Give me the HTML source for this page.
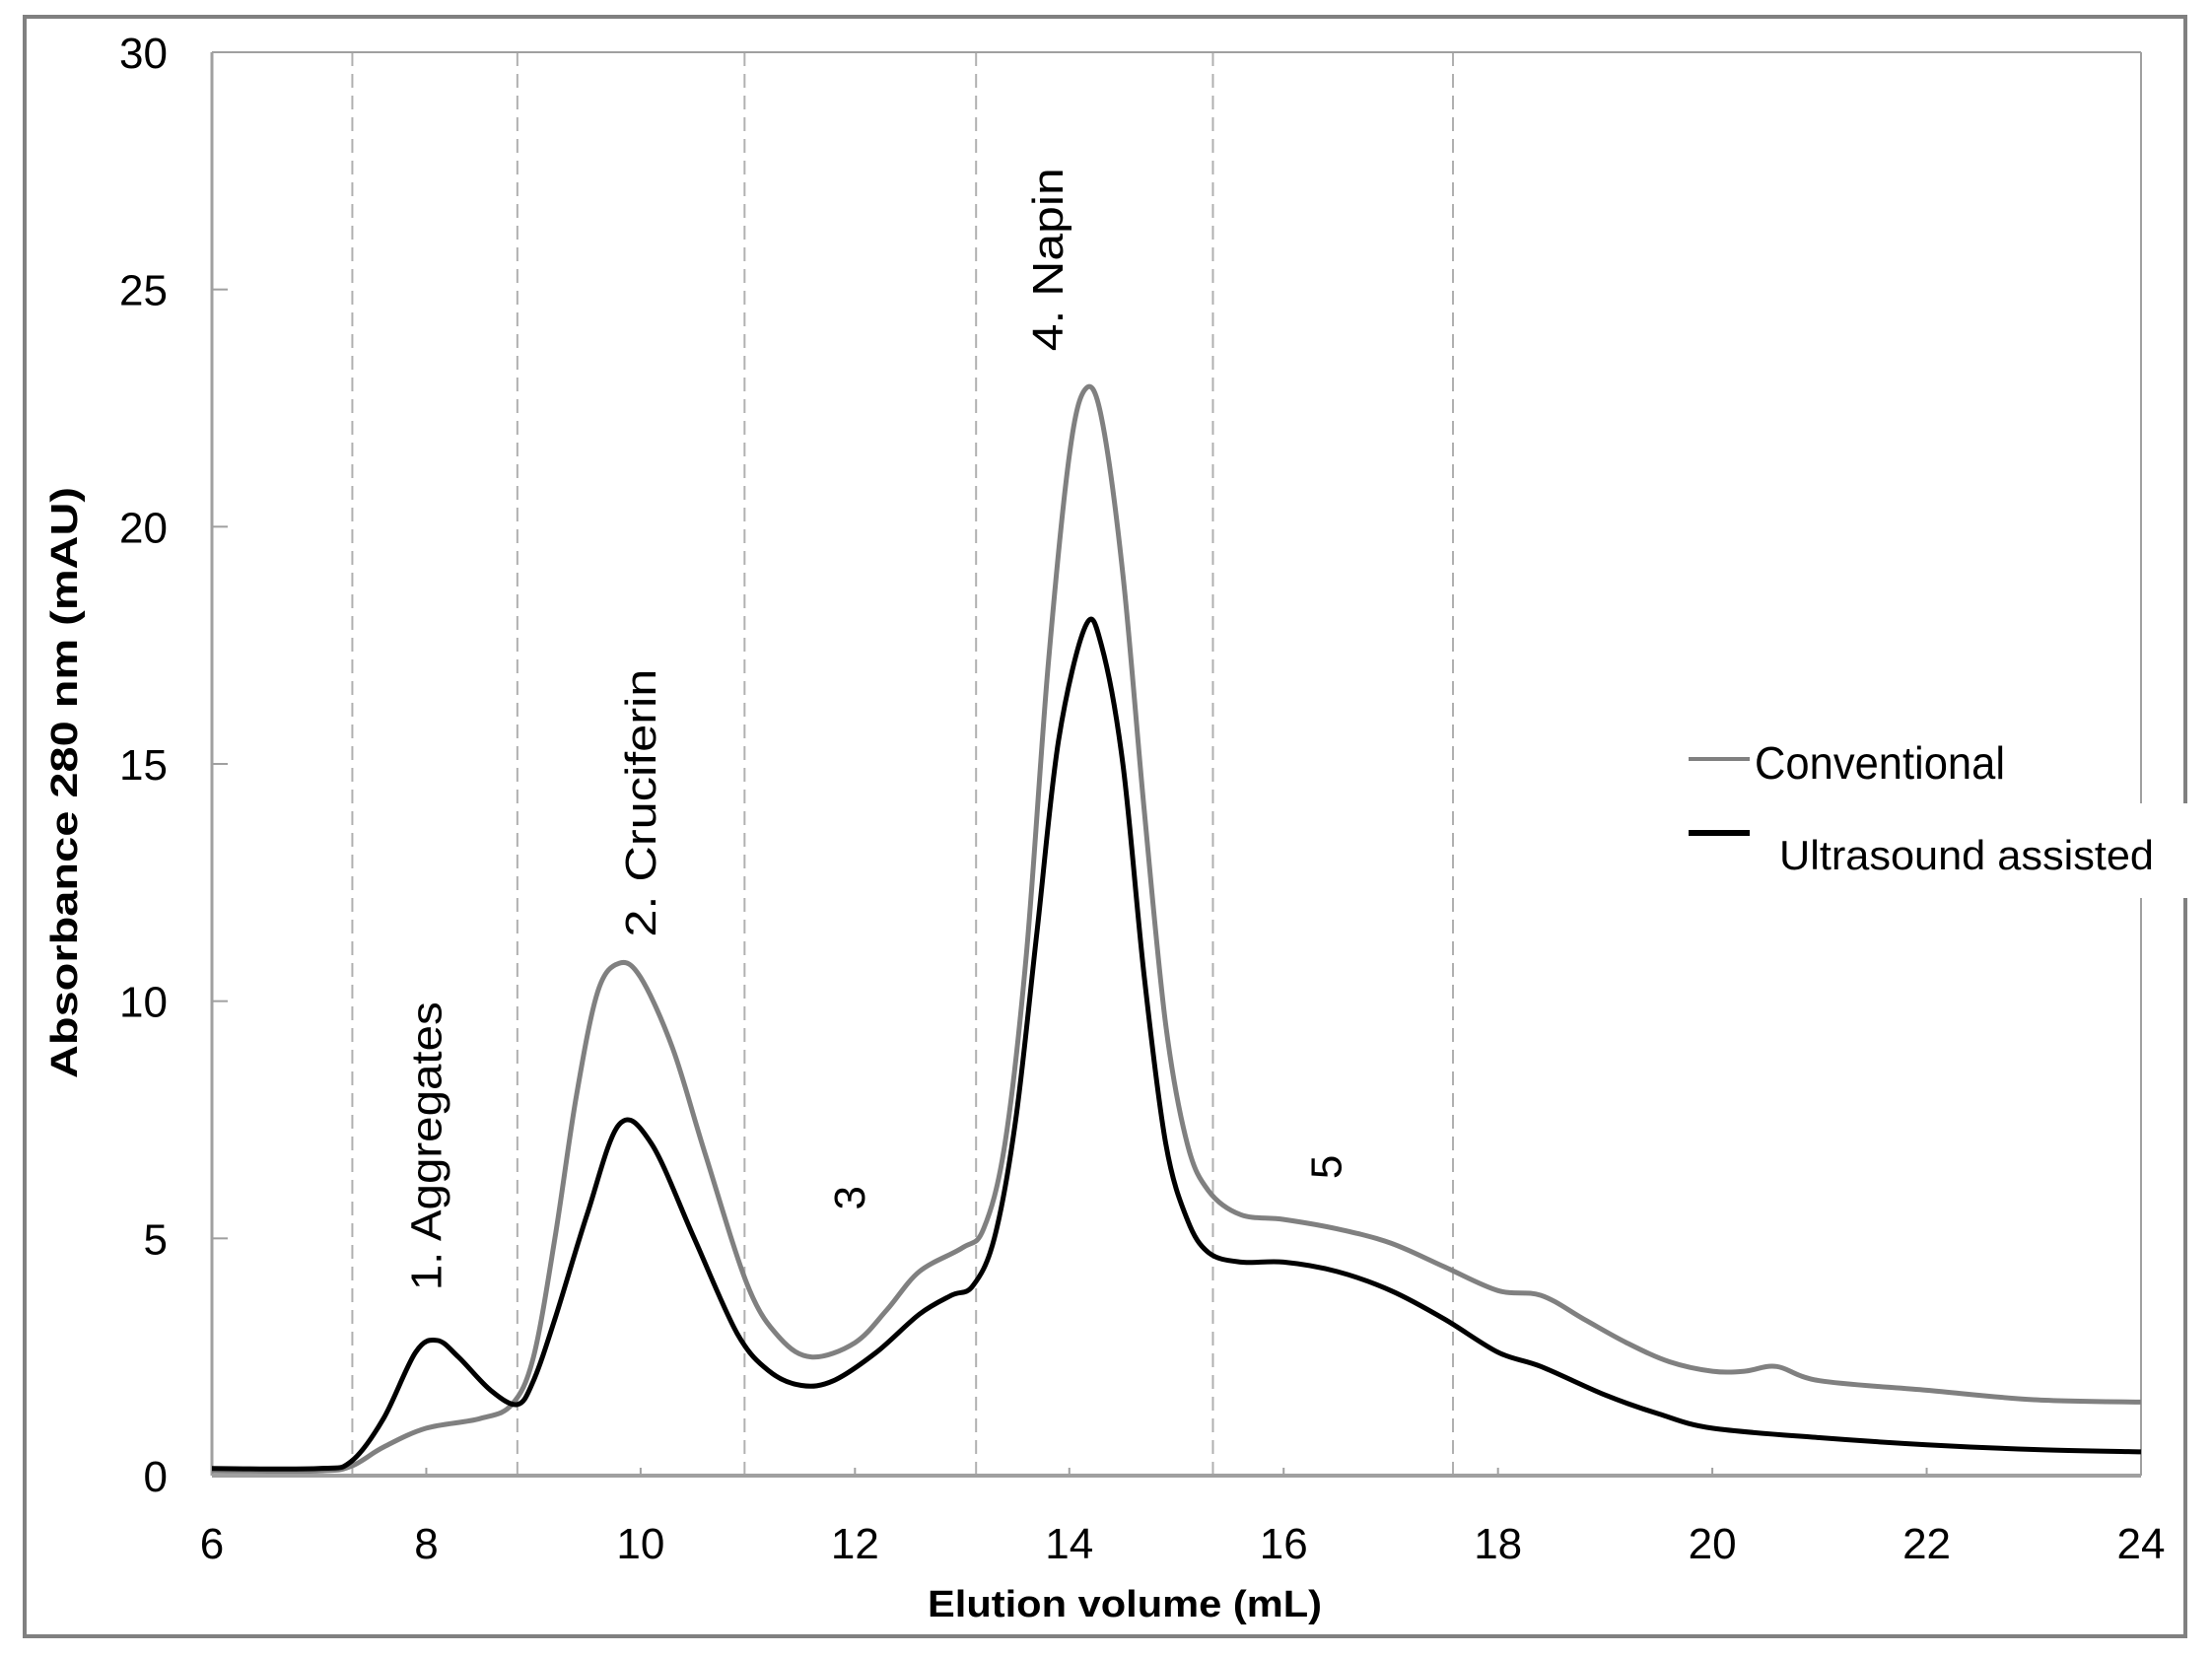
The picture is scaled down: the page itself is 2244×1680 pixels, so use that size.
<!DOCTYPE html>
<html><head><meta charset="utf-8"><style>
html,body{margin:0;padding:0;background:#fff;}
svg{display:block;font-family:"Liberation Sans",sans-serif;}
</style></head><body>
<svg id="chart" width="2244" height="1680" viewBox="0 0 2244 1680" xmlns="http://www.w3.org/2000/svg">
<rect x="25" y="17" width="2192" height="1643" fill="#fff" stroke="#808080" stroke-width="4"/>
<g id="grid"></g>
<g id="axes"></g>
<g id="series"></g>
<g id="labels"></g>
<g id="legend">
  <rect x="2160" y="815" width="70" height="96" fill="#fff"/>
  <line x1="1713" y1="770" x2="1775" y2="770" stroke="#808080" stroke-width="4"/>
  <text x="1780" y="790" font-size="46" textLength="254" lengthAdjust="spacingAndGlyphs" fill="#000">Conventional</text>
  <line x1="1713" y1="845" x2="1775" y2="845" stroke="#000" stroke-width="6"/>
  <text x="1805" y="882" font-size="42" textLength="380" lengthAdjust="spacingAndGlyphs" fill="#000">Ultrasound assisted</text>
</g>
</svg>
<script>
const xTicks = [6,8,10,12,14,16,18,20,22,24];
const yTicks = [0,5,10,15,20,25,30];
const dividers = [7.31,8.85,10.97,13.13,15.34,17.58];
const convX = [6,7,7.3,7.6,8,8.5,8.8,9.0,9.2,9.4,9.6,9.8,10.0,10.3,10.6,11.0,11.3,11.6,12,12.3,12.6,13.0,13.2,13.4,13.6,13.8,14.0,14.15,14.3,14.5,14.7,14.9,15.1,15.3,15.6,16,16.5,17,17.5,18,18.4,18.8,19.2,19.6,20,20.3,20.6,21,22,23,24];
const convY = [0.1,0.1,0.2,0.6,1.0,1.2,1.5,2.5,5,8,10.2,10.8,10.5,9,6.8,4.0,2.9,2.5,2.8,3.5,4.3,4.8,5.2,7,11,17,21.5,22.9,22.3,19,14,9.5,7,6,5.5,5.4,5.2,4.9,4.4,3.9,3.8,3.3,2.8,2.4,2.2,2.2,2.3,2.0,1.8,1.6,1.55];
const ultraX = [6,7,7.3,7.6,7.9,8.1,8.3,8.6,8.85,9.0,9.2,9.5,9.8,10.1,10.5,10.9,11.2,11.5,11.8,12.2,12.6,12.9,13.1,13.3,13.5,13.7,13.9,14.15,14.3,14.5,14.7,14.9,15.1,15.3,15.6,16,16.5,17,17.5,18,18.4,19,19.5,20,21,22,23,24];
const ultraY = [0.15,0.15,0.3,1.2,2.6,2.85,2.5,1.8,1.5,2.0,3.3,5.5,7.4,7.0,5.0,3.0,2.2,1.9,2.0,2.6,3.4,3.8,4.0,5.0,7.5,11.5,15.5,17.9,17.5,15,10.5,7,5.4,4.7,4.5,4.5,4.3,3.9,3.3,2.6,2.3,1.7,1.3,1.0,0.8,0.65,0.55,0.5];
const annotations = ["1. Aggregates","2. Cruciferin","3","4. Napin","5"];
const annotX = [8.0,10.0,11.95,13.8,16.4];
const annotY = [3.9,11.35,5.6,23.7,6.25];
const annotLen = [293,272,0,186,0];

const NS="http://www.w3.org/2000/svg";
const L=215,R=2172,T=53,B=1497;
const xs=v=>L+(v-6)/(24-6)*(R-L);
const ys=v=>B-(v/30)*(B-T);
function mk(tag,attrs,parent){const e=document.createElementNS(NS,tag);for(const k in attrs)e.setAttribute(k,attrs[k]);document.getElementById(parent).appendChild(e);return e;}

dividers.forEach(d=>{
  const l=mk('line',{x1:xs(d),x2:xs(d),y1:T,y2:B,stroke:'#b0b0b0','stroke-width':2,'stroke-dasharray':'14,8'},'grid');
  
  
});
let a=mk('line',{x1:L,x2:L,y1:T,y2:B,stroke:'#a0a0a0','stroke-width':3},'axes');


a=mk('line',{x1:L,x2:R,y1:B,y2:B,stroke:'#a0a0a0','stroke-width':4},'axes');


a=mk('line',{x1:L,x2:R,y1:T,y2:T,stroke:'#a0a0a0','stroke-width':2},'axes');


a=mk('line',{x1:R,x2:R,y1:T,y2:815,stroke:'#a0a0a0','stroke-width':2},'axes');


a=mk('line',{x1:R,x2:R,y1:911,y2:B,stroke:'#a0a0a0','stroke-width':2},'axes');


xTicks.forEach(t=>{
  const tk=mk('line',{x1:xs(t),x2:xs(t),y1:B-8,y2:B,stroke:'#a0a0a0','stroke-width':2},'axes');
  
  
  const tx=mk('text',{x:xs(t),y:B+84,'text-anchor':'middle','font-size':44,fill:'#000'},'axes');
  tx.textContent=t;
  
  
});
yTicks.forEach(t=>{
  const tk=mk('line',{x1:L,x2:L+16,y1:ys(t),y2:ys(t),stroke:'#a0a0a0','stroke-width':2},'axes');
  
  
  const tx=mk('text',{x:170,y:ys(t)+16,'text-anchor':'end','font-size':44,fill:'#000'},'axes');
  tx.textContent=t;
  
  
});
let tt=mk('text',{x:1141,y:1640,'text-anchor':'middle','font-size':38,'font-weight':'bold',fill:'#000',textLength:400,lengthAdjust:'spacingAndGlyphs'},'labels');
tt.textContent='Elution volume (mL)';


tt=mk('text',{x:0,y:0,'text-anchor':'middle','font-size':38,'font-weight':'bold',fill:'#000',transform:'translate(78,794) rotate(-90)',textLength:600,lengthAdjust:'spacingAndGlyphs'},'labels');
tt.textContent='Absorbance 280 nm (mAU)';



function smoothPath(X,Y){
  const p=X.map((x,i)=>[xs(x),ys(Y[i])]);
  let d='M'+p[0][0].toFixed(1)+','+p[0][1].toFixed(1);
  for(let i=0;i<p.length-1;i++){
    const p0=p[Math.max(i-1,0)],p1=p[i],p2=p[i+1],p3=p[Math.min(i+2,p.length-1)];
    const c1=[p1[0]+(p2[0]-p0[0])/6,p1[1]+(p2[1]-p0[1])/6];
    const c2=[p2[0]-(p3[0]-p1[0])/6,p2[1]-(p3[1]-p1[1])/6];
    d+=' C'+c1.map(v=>v.toFixed(1)).join(',')+' '+c2.map(v=>v.toFixed(1)).join(',')+' '+p2.map(v=>v.toFixed(1)).join(',');
  }
  return d;
}
let s=mk('path',{d:smoothPath(convX,convY),fill:'none',stroke:'#808080','stroke-width':5,'stroke-linejoin':'round'},'series');


s=mk('path',{d:smoothPath(ultraX,ultraY),fill:'none',stroke:'#000','stroke-width':5,'stroke-linejoin':'round'},'series');



annotations.forEach((txt,i)=>{
  const x=xs(annotX[i]),y=ys(annotY[i]);
  const attrs={x:0,y:0,'font-size':44,fill:'#000',transform:'translate('+(x+15)+','+y+') rotate(-90)'};
  if(annotLen[i]>0){attrs.textLength=annotLen[i];attrs.lengthAdjust='spacingAndGlyphs';}
  const t=mk('text',attrs,'labels');
  t.textContent=txt;
  
  
});
</script>
</body></html>
